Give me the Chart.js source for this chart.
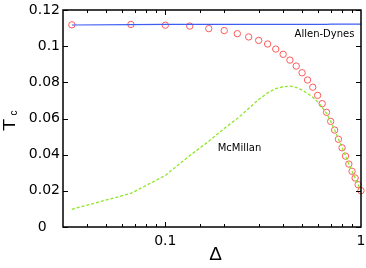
<!DOCTYPE html>
<html>
<head>
<meta charset="utf-8">
<script src="https://cdn.jsdelivr.net/npm/chart.js@4/dist/chart.umd.min.js"></script>
<style>
  html, body { margin: 0; padding: 0; background: #fff; }
  canvas { display: block; }
</style>
</head>
<body>
<canvas id="c" width="366" height="268" style="width:366px;height:268px"></canvas>
<script>
// Δ values (x)
const deltas = [0.0333,0.0667,0.1,0.1333,0.1667,0.2,0.2333,0.2667,0.3,0.3333,
                0.3667,0.4,0.4333,0.4667,0.5,0.5333,0.5667,0.6,0.6333,0.6667,
                0.7,0.7333,0.7667,0.8,0.8333,0.8667,0.9,0.9333,0.9667,1.0];
// open red circles
const tcCircles = [0.1118,0.1120,0.1116,0.1111,0.1097,0.1086,0.1069,0.1051,0.1032,0.1012,
                   0.0984,0.0955,0.0923,0.0890,0.0853,0.0813,0.0773,0.0728,0.0682,0.0634,
                   0.0584,0.0536,0.0485,0.0438,0.0392,0.0348,0.0308,0.0271,0.0234,0.0201];
// Allen-Dynes (solid blue)
const tcAllenDynes = [0.1117,0.1119,0.1120,0.1120,0.1121,0.1121,0.1121,0.1121,0.1121,0.1121,
                      0.1121,0.1121,0.1121,0.1121,0.1121,0.1121,0.1121,0.1121,0.1121,0.1121,
                      0.1122,0.1122,0.1122,0.1122,0.1122,0.1122,0.1122,0.1122,0.1122,0.1122];
// McMillan (dashed green)
const tcMcMillan = [0.0098,0.0186,0.0285,0.0395,0.0474,0.0545,0.0600,0.0655,0.0705,0.0742,
                    0.0765,0.0776,0.0779,0.0772,0.0757,0.0738,0.0718,0.0692,0.0662,0.0628,
                    0.0584,0.0536,0.0487,0.0440,0.0393,0.0349,0.0308,0.0270,0.0234,0.0200];
const xTickLabels = [0.1, 1];
const yTicks = [0, 0.02, 0.04, 0.06, 0.08, 0.1, 0.12];
const seriesNames = ['Allen-Dynes', 'McMillan'];

const pts = ys => deltas.map((x, i) => ({x: x, y: ys[i]}));

const framePlugin = {
  id: 'frame',
  afterDraw(chart) {
    const ctx = chart.ctx;
    const a = chart.chartArea;
    const xs = chart.scales.x, ys = chart.scales.y;
    ctx.save();
    ctx.strokeStyle = '#000';
    ctx.lineWidth = 1.5;
    ctx.strokeRect(a.left, a.top, a.right - a.left, a.bottom - a.top);
    ctx.lineWidth = 1;
    ctx.beginPath();
    ys.ticks.forEach(t => {
      const py = Math.round(ys.getPixelForValue(t.value)) + 0.5;
      ctx.moveTo(a.left, py); ctx.lineTo(a.left + 5, py);
      ctx.moveTo(a.right, py); ctx.lineTo(a.right - 5, py);
    });
    xs.ticks.forEach(t => {
      const px = Math.round(xs.getPixelForValue(t.value)) + 0.5;
      if (px < a.left + 1 || px > a.right - 1) return;
      const lg = Math.log10(t.value);
      const major = Math.abs(lg - Math.round(lg)) < 1e-6;
      const len = major ? 5 : 3;
      ctx.moveTo(px, a.bottom); ctx.lineTo(px, a.bottom - len);
      ctx.moveTo(px, a.top); ctx.lineTo(px, a.top + len);
    });
    ctx.stroke();

    ctx.fillStyle = '#000';
    ctx.textAlign = 'center';
    ctx.textBaseline = 'middle';
    ctx.font = '10px "DejaVu Sans"';
    ctx.fillText(seriesNames[0], 324.5, 34);
    ctx.fillText(seriesNames[1], 239.5, 148);

    // x-axis title
    ctx.font = '19px "Liberation Sans"';
    ctx.fillText('Δ', 215.5, 254.5);

    // y-axis title T_c
    ctx.save();
    ctx.translate(15, 131);
    ctx.rotate(-Math.PI / 2);
    ctx.textAlign = 'left';
    ctx.textBaseline = 'alphabetic';
    ctx.save();
    ctx.scale(1.25, 1);
    ctx.font = '16px "Liberation Sans"';
    ctx.fillText('T', 0, 0);
    ctx.restore();
    ctx.font = '10px "Liberation Sans"';
    ctx.fillText('c', 15.5, 2);
    ctx.restore();
    ctx.restore();
  }
};

new Chart(document.getElementById('c'), {
  type: 'scatter',
  data: {
    datasets: [
      { label: seriesNames[0], data: pts(tcAllenDynes), showLine: true,
        borderColor: '#3e5ef2', borderWidth: 1.2, pointRadius: 0, fill: false },
      { label: seriesNames[1], data: pts(tcMcMillan), showLine: true,
        borderColor: '#8ee62a', borderWidth: 1.3, borderDash: [3, 2], pointRadius: 0, fill: false },
      { label: 'Tc', data: pts(tcCircles), showLine: false,
        pointStyle: 'circle', pointRadius: 3.2, borderWidth: 1,
        borderColor: '#ff5a5a', backgroundColor: 'rgba(0,0,0,0)', clip: false }
    ]
  },
  options: {
    responsive: false,
    animation: false,
    devicePixelRatio: 1,
    layout: { padding: { top: 10, right: 4, left: 0, bottom: 0 } },
    plugins: { legend: { display: false }, tooltip: { enabled: false } },
    scales: {
      x: {
        type: 'logarithmic', min: 0.03, max: 1, position: 'bottom',
        grid: { display: false, drawTicks: false }, border: { display: false },
        ticks: {
          autoSkip: false, maxRotation: 0, padding: 6, color: '#000',
          font: { family: 'DejaVu Sans', size: 14 },
          callback: v => {
            const m = xTickLabels.find(t => Math.abs(v - t) < 1e-9);
            return m === undefined ? '' : String(m);
          }
        },
        afterFit: s => { s.height = 41; s.paddingLeft = 0; s.paddingRight = 0; }
      },
      y: {
        min: 0, max: 0.12,
        grid: { display: false, drawTicks: false }, border: { display: false },
        ticks: {
          stepSize: 0.02, padding: 3, color: '#000',
          font: { family: 'DejaVu Sans', size: 14 },
          callback: v => {
            const r = parseFloat(v.toFixed(2));
            return r === 0 ? '0\u2007\u2008' : String(r);
          }
        },
        afterFit: s => { s.width = 63; s.paddingTop = 0; s.paddingBottom = 0; }
      }
    }
  },
  plugins: [framePlugin]
});
</script>
</body>
</html>
